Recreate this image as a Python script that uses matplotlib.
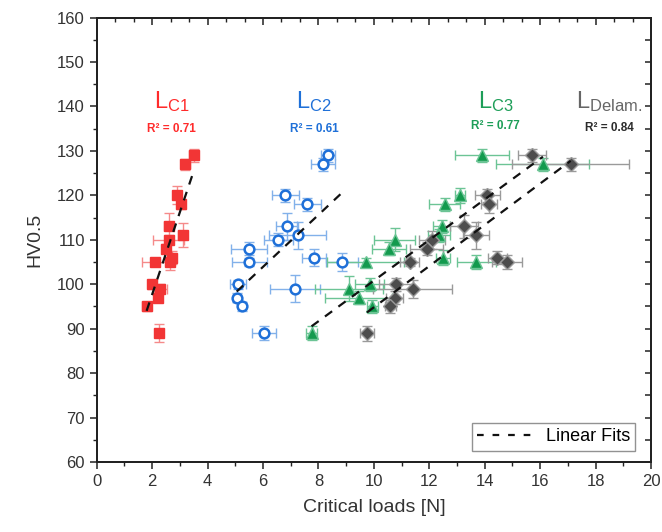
import matplotlib
matplotlib.use("Agg")
import matplotlib.pyplot as plt
from matplotlib.lines import Line2D
from matplotlib.ticker import MultipleLocator, NullFormatter
import numpy as np

plt.rcParams["font.family"] = ["Liberation Sans", "DejaVu Sans"]
plt.rcParams["mathtext.fontset"] = "custom"
plt.rcParams["mathtext.rm"] = "Liberation Sans"
plt.rcParams["mathtext.it"] = "Liberation Sans:italic"

# --- data ---
c1_x = [3.5, 3.2, 2.9, 3.05, 2.6, 3.1, 2.6, 2.5, 2.7, 2.65, 2.1, 2.0, 2.3, 2.2, 1.8, 2.25]
c1_y = [129, 127, 120, 118, 113, 111, 110, 108, 106, 105, 105, 100, 99, 97, 95, 89]
c1_xerr = [0.17, 0.15, 0.15, 0.1, 0.16, 0.16, 0.56, 0.12, 0.15, 0.15, 0.48, 0.15, 0.22, 0.12, 0.15, 0.15]
c1_yerr = [1.5, 1.2, 2, 1, 3, 2.7, 1, 1, 1.5, 1.7, 1, 1, 1, 1, 1, 2]

c2_x = [8.35, 8.15, 6.8, 7.6, 6.85, 7.25, 6.55, 5.5, 5.5, 7.85, 8.85, 5.1, 7.15, 5.05, 5.25, 6.05]
c2_y = [129, 127, 120, 118, 113, 111, 110, 108, 105, 106, 105, 100, 99, 97, 95, 89]
c2_xerr = [0.25, 0.43, 0.49, 0.48, 0.37, 1.03, 0.52, 0.66, 0.63, 0.43, 0.58, 0.28, 0.89, 0.15, 0.15, 0.43]
c2_yerr = [1.5, 1.5, 1.5, 1.5, 3, 3.1, 1.5, 1.5, 1, 2, 2, 1, 3.1, 1, 1, 1.5]

c3_x = [13.9, 13.1, 12.55, 12.45, 12.35, 10.75, 10.55, 12.5, 13.7, 9.7, 9.1, 9.85, 9.45, 9.95, 7.75, 16.1]
c3_y = [129, 120, 118, 113, 111, 110, 108, 106, 105, 105, 99, 100, 97, 95, 89, 127]
c3_xerr = [0.98, 0.18, 0.55, 0.3, 0.4, 0.74, 0.61, 0.25, 0.7, 1.4, 1.23, 0.52, 1.2, 0.2, 0.2, 1.68]
c3_yerr = [1.5, 1.7, 1.5, 1.5, 1.5, 2.6, 1.5, 1.7, 1.5, 1, 2.8, 1.5, 1.5, 1.5, 1.5, 1.5]

dl_x = [15.7, 17.1, 14.1, 14.15, 13.25, 13.7, 12.1, 11.9, 14.45, 14.8, 11.3, 11.4, 10.8, 10.75, 10.6, 9.75]
dl_y = [129, 127, 120, 118, 113, 111, 110, 108, 106, 105, 105, 99, 100, 97, 95, 89]
dl_xerr = [0.5, 2.1, 0.45, 0.3, 0.5, 0.47, 0.46, 0.58, 0.34, 0.55, 0.34, 1.43, 0.6, 0.3, 0.2, 0.25]
dl_yerr = [1.5, 1.5, 1.5, 2, 2.5, 3, 2, 1.5, 1.5, 1.5, 1, 2, 1.5, 1.5, 1.5, 1.7]

# linear fits (slope, intercept) and R^2
fit_slope = [18.5, 5.85, 4.57, 4.64]
fit_intercept = [60.7, 68.8, 55.1, 48.4]
r2_values = [0.71, 0.61, 0.77, 0.84]
series_names = ["C1", "C2", "C3", "Delam."]

fig = plt.figure(figsize=(6.62, 5.32), dpi=100)
ax = fig.add_axes([0.1461, 0.1316, 0.8373, 0.8355])

series = [
    (c1_x, c1_y, c1_xerr, c1_yerr),
    (c2_x, c2_y, c2_xerr, c2_yerr),
    (c3_x, c3_y, c3_xerr, c3_yerr),
    (dl_x, dl_y, dl_xerr, dl_yerr),
]
styles = [
    dict(marker="s", ms=7, mfc="#f23535", mec="#f23535", mew=1.0, ecolor="#f58a8a"),
    dict(marker="o", ms=7, mfc="white", mec="#1f70d8", mew=1.8, ecolor="#82b1ea"),
    dict(marker="^", ms=8, mfc="#139a4e", mec="#6cc495", mew=1.0, ecolor="#6cc495"),
    dict(marker="D", ms=7, mfc="#4d4d4d", mec="#9a9a9a", mew=1.0, ecolor="#9a9a9a"),
]

for (x, y, xe, ye), st in zip(series, styles):
    ax.errorbar(x, y, xerr=xe, yerr=ye, fmt="none", ecolor=st["ecolor"],
                elinewidth=1.0, capsize=3.5, capthick=1.0, zorder=2)
    ax.plot(x, y, linestyle="none", marker=st["marker"], markersize=st["ms"],
            markerfacecolor=st["mfc"], markeredgecolor=st["mec"],
            markeredgewidth=st["mew"], zorder=3)

for (x, y, xe, ye), m, b in zip(series, fit_slope, fit_intercept):
    xs = np.array([min(x), max(x)])
    ax.plot(xs, m * xs + b, color="#111111", linestyle=(0, (4, 3.5)),
            linewidth=1.6, zorder=4)

# series labels
label_pos = [(2.7, 141.0, 135.0), (7.85, 141.0, 135.0), (14.4, 141.0, 135.6), (18.5, 141.0, 135.2)]
label_colors = ["#ff2b2b", "#1f70d8", "#1d9e58", "#666666"]
r2_colors = ["#ff2b2b", "#1f70d8", "#1d9e58", "#2b2b2b"]
for name, (lx, ly, ry), lc, rc, r2 in zip(series_names, label_pos, label_colors, r2_colors, r2_values):
    ax.text(lx, ly, r"$\mathregular{L_{%s}}$" % name, color=lc, fontsize=17,
            ha="center", va="center")
    ax.text(lx, ry, "R² = %.2f" % r2, color=rc, fontsize=8.5, fontweight="bold",
            ha="center", va="center")

ax.set_xlim(0, 20)
ax.set_ylim(60, 160)
ax.xaxis.set_major_locator(MultipleLocator(2))
ax.xaxis.set_minor_locator(MultipleLocator(1))
ax.yaxis.set_major_locator(MultipleLocator(10))
ax.yaxis.set_minor_locator(MultipleLocator(5))
ax.tick_params(which="major", direction="out", length=5, width=1.1,
               labelsize=12, colors="#222222", labelcolor="#333333")
ax.tick_params(which="minor", direction="out", length=3, width=1.0, colors="#222222")

# mirrored ticks on top and right
top = ax.twiny()
top.set_xlim(0, 20)
top.xaxis.set_major_locator(MultipleLocator(2))
top.xaxis.set_minor_locator(MultipleLocator(2 / 3))
top.xaxis.set_major_formatter(NullFormatter())
top.tick_params(which="major", direction="in", length=5, width=1.1, colors="#222222")
top.tick_params(which="minor", direction="in", length=3, width=1.0, colors="#222222")
right = ax.twinx()
right.set_ylim(60, 160)
right.yaxis.set_major_locator(MultipleLocator(5))
right.yaxis.set_major_formatter(NullFormatter())
right.tick_params(which="major", direction="in", length=4, width=1.1, colors="#222222")

for a in (ax, top, right):
    for sp in a.spines.values():
        sp.set_linewidth(1.2)
        sp.set_color("#222222")

ax.set_xlabel("Critical loads [N]", fontsize=14, color="#333333", labelpad=7)
ax.set_ylabel("HV0.5", fontsize=14, color="#333333", labelpad=10)

handle = Line2D([], [], color="#111111", linestyle=(0, (3, 4)), linewidth=1.6)
leg = ax.legend([handle], ["Linear Fits"], loc="lower right", fontsize=13,
                frameon=True, fancybox=False, edgecolor="#777777",
                bbox_to_anchor=(0.972, 0.025), borderaxespad=0.0,
                handlelength=3.0, borderpad=0.3)
leg.get_frame().set_linewidth(1.0)

fig.savefig("out.png", dpi=100)
